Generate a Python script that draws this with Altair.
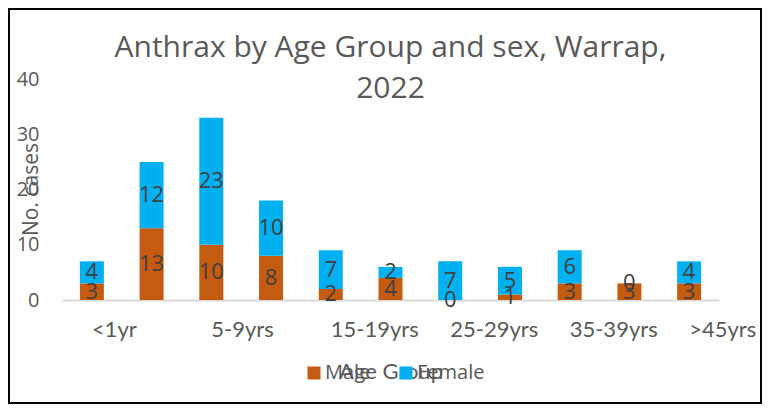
import altair as alt
import pandas as pd

ages = ["<1yr", "1-4yrs", "5-9yrs", "10-14yrs", "15-19yrs", "20-24yrs",
        "25-29yrs", "30-34yrs", "35-39yrs", "40-44yrs", ">45yrs"]
male = [3, 13, 10, 8, 2, 4, 0, 1, 3, 3, 3]
female = [4, 12, 23, 10, 7, 2, 7, 5, 6, 0, 4]
shown_labels = ["<1yr", "5-9yrs", "15-19yrs", "25-29yrs", "35-39yrs", ">45yrs"]
sexes = ["Male", "Female"]
colors = ["#C55A11", "#00B0F0"]

rows = []
for i, a in enumerate(ages):
    rows.append({"age": a, "sex": "Male", "ord": 0, "count": male[i]})
    rows.append({"age": a, "sex": "Female", "ord": 1, "count": female[i]})
df = pd.DataFrame(rows)

W, H = 657, 221
PAD = {"left": 54, "top": 71, "right": 43, "bottom": 104}

base = alt.Chart(df).transform_stack(
    stack="count", groupby=["age"], as_=["y0", "y1"],
    sort=[alt.SortField("ord", order="ascending")]
).transform_calculate(mid="(datum.y0 + datum.y1) / 2")

xenc = alt.X("age:N", sort=ages, scale=alt.Scale(paddingInner=0, paddingOuter=0),
             axis=alt.Axis(values=shown_labels, title="Age Group", labelAlign="left",
                           labelAngle=0, labelBaseline="top", labelPadding=19, ticks=False,
                           labelLimit=200, labelOverlap=False,
                           domainColor="#D9D9D9", domainWidth=2,
                           labelFont="Lato", labelFontSize=22, labelColor="#595959",
                           titleFont="Lato", titleFontSize=22, titleColor="#595959",
                           titleFontWeight="normal", titleBaseline="middle", titleY=71))
yscale = alt.Scale(domain=[0, 40], nice=False)

bars = base.mark_bar(size=24).encode(
    x=xenc,
    y=alt.Y("y0:Q", scale=yscale,
            axis=alt.Axis(values=[0, 10, 20, 30, 40], title="No. cases", grid=False,
                          domain=False, ticks=False, labelPadding=23,
                          labelFont="Open Sans", labelFontSize=20, labelColor="#595959",
                          titleFont="Open Sans", titleFontSize=21, titleColor="#595959",
                          titleFontWeight="normal", titleX=-31, titleY=110,
                          titleAlign="center", titleBaseline="middle")),
    y2="y1:Q",
    color=alt.Color("sex:N", scale=alt.Scale(domain=sexes, range=colors),
                    legend=alt.Legend(title=None, orient="none", legendX=242, legendY=284,
                                      direction="horizontal", symbolType="square",
                                      symbolSize=169, symbolStrokeWidth=0,
                                      labelFont="Open Sans", labelFontSize=20,
                                      labelColor="#595959", columnPadding=25,
                                      labelOffset=1)),
)

labels = base.mark_text(font="Open Sans", fontSize=22, color="#404040",
                        baseline="middle", align="center").encode(
    x=alt.X("age:N", sort=ages),
    y=alt.Y("mid:Q", scale=yscale),
    text="count:Q",
)

frame = alt.Chart(alt.Data(values=[{}])).mark_rect(
    fill=None, stroke="#000000", strokeWidth=2
).encode(
    x=alt.value(-53), x2=alt.value(W + PAD["right"] - 1),
    y=alt.value(-70), y2=alt.value(H + PAD["bottom"] - 1),
)

chart = alt.layer(bars, labels, frame).properties(
    width=W, height=H,
    title=alt.TitleParams(["Anthrax by Age Group and sex, Warrap,", "2022"],
                          font="Open Sans", fontSize=30, fontWeight="normal",
                          color="#595959", anchor="middle", lineHeight=41,
                          baseline="top", offset=0, dy=96),
    padding=PAD,
    autosize=alt.AutoSizeParams(type="none"),
).configure_view(stroke=None)

chart.save("out.html", embed_options={"renderer": "svg", "actions": False})
